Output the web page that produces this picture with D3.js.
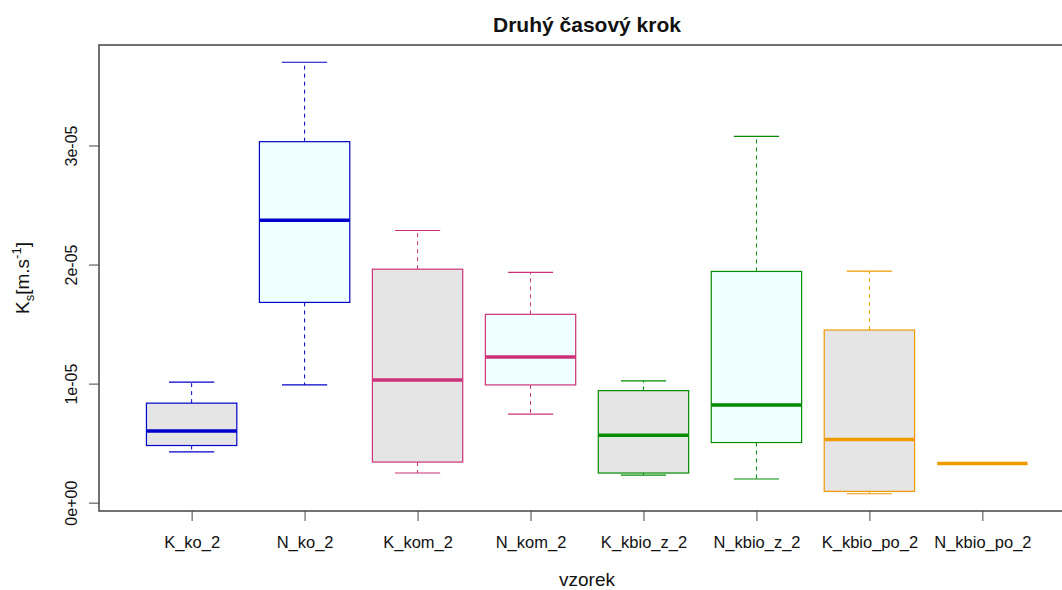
<!DOCTYPE html>
<html>
<head>
<meta charset="utf-8">
<script src="https://cdn.jsdelivr.net/npm/d3@7"></script>
<style>
body { margin: 0; background: #fff; }
text { font-family: "Liberation Sans", Arial, sans-serif; }
</style>
</head>
<body>
<div id="chart"></div>
<script>
// box statistics (units m/s)
var categories = ['K_ko_2', 'N_ko_2', 'K_kom_2', 'N_kom_2', 'K_kbio_z_2', 'N_kbio_z_2', 'K_kbio_po_2', 'N_kbio_po_2'];
var whiskLow  = [0.427e-5, 0.989e-5, 0.249e-5, 0.744e-5, 0.232e-5, 0.199e-5, 0.075e-5, 0.329e-5];
var q1        = [0.480e-5, 1.682e-5, 0.341e-5, 0.989e-5, 0.249e-5, 0.505e-5, 0.095e-5, 0.329e-5];
var medians   = [0.601e-5, 2.372e-5, 1.031e-5, 1.224e-5, 0.567e-5, 0.821e-5, 0.531e-5, 0.329e-5];
var q3        = [0.836e-5, 3.032e-5, 1.961e-5, 1.582e-5, 0.941e-5, 1.942e-5, 1.450e-5, 0.329e-5];
var whiskHigh = [1.012e-5, 3.699e-5, 2.286e-5, 1.934e-5, 1.023e-5, 3.076e-5, 1.945e-5, 0.329e-5];
var yTicks = [0, 1e-5, 2e-5, 3e-5];
var yTickLabels = ['0e+00', '1e-05', '2e-05', '3e-05'];

var lineColors = ['#0000CD', '#0000CD', '#CD3278', '#CD3278', '#008B00', '#008B00', '#EE9A00', '#EE9A00'];
var fillColors = ['#E5E5E5', '#F0FFFF', '#E5E5E5', '#F0FFFF', '#E5E5E5', '#F0FFFF', '#E5E5E5', '#F0FFFF'];

var W = 1062, H = 590;
var margin = {top: 45, right: -13, bottom: 79, left: 99};
var plotW = W - margin.left - margin.right,
    plotH = H - margin.top - margin.bottom;

var svg = d3.select('#chart').append('svg')
    .attr('width', W)
    .attr('height', H);

var data = categories.map(function (c, i) {
    return {name: c, lo: whiskLow[i], q1: q1[i], med: medians[i], q3: q3[i], hi: whiskHigh[i], i: i};
});

// R style range: 4% extension each side
var yMin = d3.min(whiskLow), yMax = d3.max(whiskHigh), ext = (yMax - yMin) * 0.04;
var y = d3.scaleLinear()
    .domain([yMin - ext, yMax + ext])
    .range([margin.top + plotH, margin.top]);
var x = d3.scaleLinear()
    .domain([0.18, categories.length + 0.82])
    .range([margin.left, margin.left + plotW]);
var unit = x(2) - x(1);
var boxW = unit * 0.8, stapleW = boxW / 2;

var g = svg.append('g');

// whiskers
g.selectAll('.whU').data(data).enter().append('line')
    .attr('x1', function (d) { return x(d.i + 1); })
    .attr('x2', function (d) { return x(d.i + 1); })
    .attr('y1', function (d) { return y(d.q3); })
    .attr('y2', function (d) { return y(d.hi); })
    .attr('stroke', function (d) { return lineColors[d.i]; })
    .attr('stroke-dasharray', '4,4');
g.selectAll('.whL').data(data).enter().append('line')
    .attr('x1', function (d) { return x(d.i + 1); })
    .attr('x2', function (d) { return x(d.i + 1); })
    .attr('y1', function (d) { return y(d.q1); })
    .attr('y2', function (d) { return y(d.lo); })
    .attr('stroke', function (d) { return lineColors[d.i]; })
    .attr('stroke-dasharray', '4,4');

// staples
['hi', 'lo'].forEach(function (k) {
    g.selectAll('.st' + k).data(data).enter().append('line')
        .attr('x1', function (d) { return x(d.i + 1) - stapleW / 2; })
        .attr('x2', function (d) { return x(d.i + 1) + stapleW / 2; })
        .attr('y1', function (d) { return y(d[k]); })
        .attr('y2', function (d) { return y(d[k]); })
        .attr('stroke', function (d) { return lineColors[d.i]; })
        .attr('stroke-width', 1.2);
});

// boxes
g.selectAll('.box').data(data).enter().append('rect')
    .attr('x', function (d) { return x(d.i + 1) - boxW / 2; })
    .attr('width', boxW)
    .attr('y', function (d) { return y(d.q3); })
    .attr('height', function (d) { return y(d.q1) - y(d.q3); })
    .attr('fill', function (d) { return fillColors[d.i]; })
    .attr('stroke', function (d) { return lineColors[d.i]; })
    .attr('stroke-width', 1.2);

// medians
g.selectAll('.med').data(data).enter().append('line')
    .attr('x1', function (d) { return x(d.i + 1) - boxW / 2; })
    .attr('x2', function (d) { return x(d.i + 1) + boxW / 2; })
    .attr('y1', function (d) { return y(d.med); })
    .attr('y2', function (d) { return y(d.med); })
    .attr('stroke', function (d) { return lineColors[d.i]; })
    .attr('stroke-width', 3.5);

// frame
svg.append('rect')
    .attr('x', margin.left)
    .attr('y', margin.top)
    .attr('width', plotW)
    .attr('height', plotH)
    .attr('fill', 'none')
    .attr('stroke', '#444')
    .attr('stroke-width', 1.5);

// y axis
var yAxis = svg.append('g')
    .attr('transform', 'translate(' + margin.left + ',0)')
    .call(d3.axisLeft(y).tickValues(yTicks).tickSize(10).tickFormat(function (d, i) { return yTickLabels[i]; }));
yAxis.select('.domain').remove();
yAxis.selectAll('.tick line').attr('stroke', '#444');
yAxis.selectAll('.tick text')
    .attr('x', 0).attr('y', 0).attr('dy', 0)
    .attr('transform', 'translate(-22,0) rotate(-90)')
    .attr('text-anchor', 'middle')
    .attr('font-size', 16)
    .attr('fill', '#111')
    .style('font-family', '"Liberation Sans", Arial, sans-serif');

// x axis
var xAxis = svg.append('g')
    .attr('transform', 'translate(0,' + (margin.top + plotH) + ')')
    .call(d3.axisBottom(x).tickValues(d3.range(1, categories.length + 1)).tickSize(10)
        .tickFormat(function (d) { return categories[d - 1]; }));
xAxis.select('.domain').remove();
xAxis.selectAll('.tick line').attr('stroke', '#444');
xAxis.selectAll('.tick text')
    .attr('y', 37).attr('dy', 0)
    .attr('font-size', 16.5)
    .attr('fill', '#111')
    .style('font-family', '"Liberation Sans", Arial, sans-serif');

// title
svg.append('text')
    .attr('x', x((categories.length + 1) / 2))
    .attr('y', 32)
    .attr('text-anchor', 'middle')
    .attr('font-size', 21)
    .attr('font-weight', 'bold')
    .attr('fill', '#111')
    .text('Druhý časový krok');

// x label
svg.append('text')
    .attr('x', x((categories.length + 1) / 2))
    .attr('y', 586)
    .attr('text-anchor', 'middle')
    .attr('font-size', 19)
    .attr('fill', '#111')
    .text('vzorek');

// y label  K_s[m.s^-1]
var yl = svg.append('text')
    .attr('transform', 'translate(29,' + (margin.top + plotH / 2) + ') rotate(-90)')
    .attr('text-anchor', 'middle')
    .attr('font-size', 19)
    .attr('fill', '#111');
yl.append('tspan').text('K');
yl.append('tspan').attr('dy', 5).attr('font-size', 13).text('s');
yl.append('tspan').attr('dy', -5).text('[m.s');
yl.append('tspan').attr('dy', -8).attr('font-size', 13).text('-1');
yl.append('tspan').attr('dy', 8).text(']');
</script>
</body>
</html>
